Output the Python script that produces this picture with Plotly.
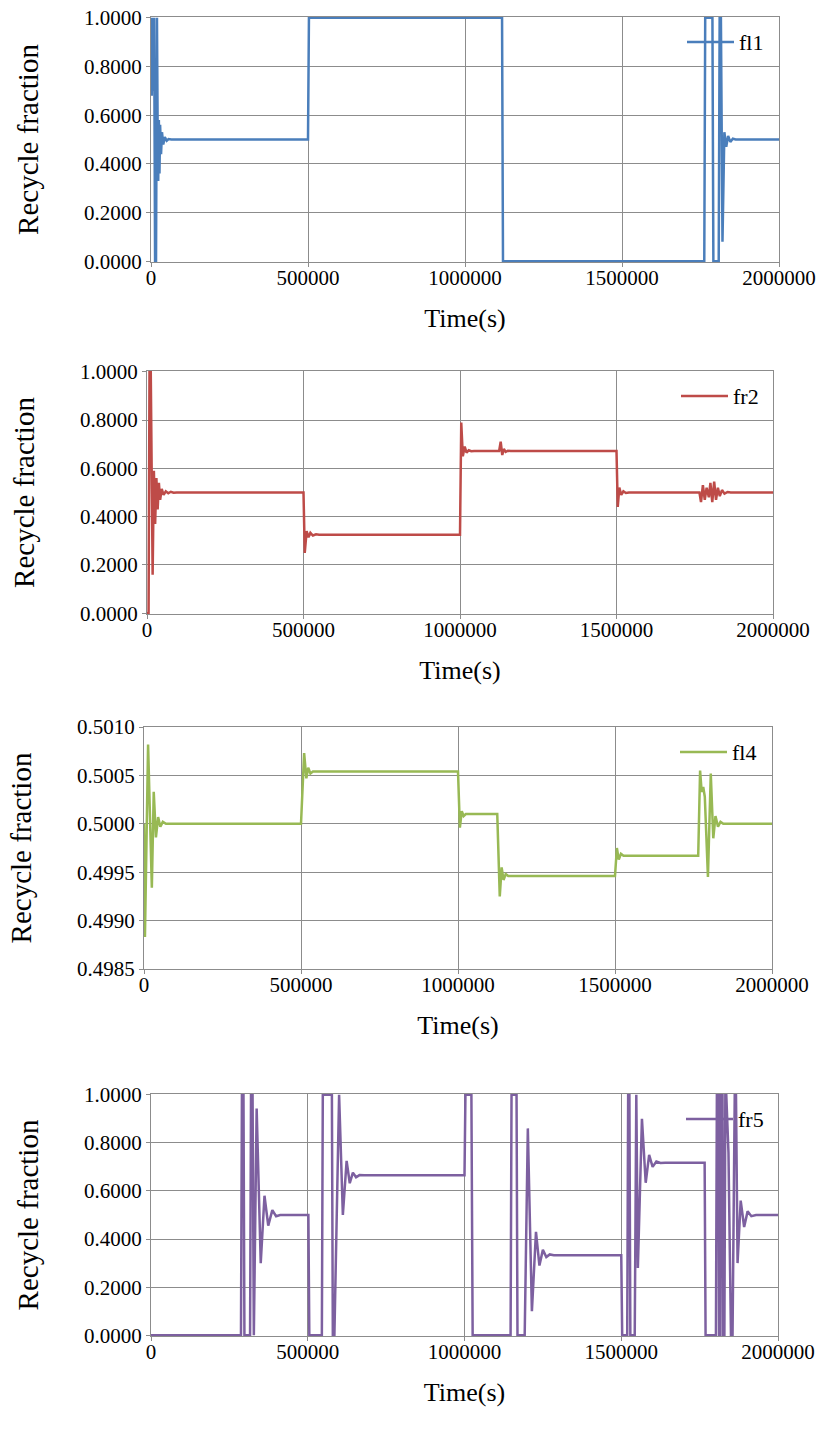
import plotly.graph_objects as go

# ---- fl1 ----
fl1_t = [0, 2500, 5000, 7500, 10000, 13000, 16000, 19000, 21000, 23000, 25000, 27000, 29000,
         32000, 35000, 39000, 44000, 50000, 56000, 65000, 500000, 503000, 1118000, 1121000,
         1762000, 1765000, 1788000, 1791000, 1808000, 1811000, 1815000, 1820000, 1826000,
         1832000, 1838000, 1845000, 1853000, 1862000, 2000000]
fl1_v = [1.0, 0.68, 1.0, 0.70, 1.0, 0.0, 0.0, 1.0, 0.58, 0.33, 0.58, 0.36, 0.56,
         0.44, 0.53, 0.48, 0.51, 0.495, 0.502, 0.5, 0.5, 1.0, 1.0, 0.0,
         0.0, 1.0, 1.0, 0.0, 0.0, 1.0, 1.0, 0.08, 0.53,
         0.47, 0.515, 0.49, 0.503, 0.5, 0.5]

# ---- fr2 ----
fr2_t = [0, 5000, 8000, 12000, 18000, 22000, 26000, 30000, 34000, 38000, 42000, 47000, 53000,
         60000, 68000, 76000, 85000, 95000, 500000, 504000, 510000, 516000, 522000, 530000,
         540000, 550000, 1000000, 1004000, 1009000, 1015000, 1021000, 1028000, 1036000, 1045000,
         1125000, 1130000, 1135000, 1140000, 1146000, 1153000, 1162000, 1500000, 1504000,
         1509000, 1515000, 1522000, 1530000, 1540000, 1765000, 1770000, 1776000, 1782000,
         1788000, 1795000, 1800000, 1806000, 1812000, 1818000, 1824000, 1830000, 1837000,
         1845000, 1855000, 1865000, 2000000]
fr2_v = [0.0, 0.0, 1.0, 1.0, 0.16, 0.59, 0.37, 0.56, 0.43, 0.54, 0.47, 0.515, 0.49,
         0.505, 0.497, 0.503, 0.499, 0.5, 0.5, 0.25, 0.34, 0.315, 0.333, 0.322,
         0.327, 0.325, 0.325, 0.79, 0.65, 0.69, 0.665, 0.675, 0.671, 0.672,
         0.672, 0.71, 0.655, 0.68, 0.668, 0.673, 0.672, 0.672, 0.44,
         0.52, 0.49, 0.505, 0.498, 0.5, 0.5, 0.46, 0.53, 0.47,
         0.52, 0.48, 0.54, 0.46, 0.545, 0.47, 0.52, 0.485, 0.51,
         0.495, 0.502, 0.5, 0.5]

# ---- fl4 ----
fl4_t = [0, 3000, 13000, 25000, 31000, 38000, 45000, 52000, 60000, 70000, 500000, 510000,
         517000, 523000, 530000, 538000, 1000000, 1006000, 1012000, 1018000, 1025000, 1125000,
         1133000, 1139000, 1145000, 1152000, 1160000, 1500000, 1506000, 1512000, 1519000,
         1527000, 1765000, 1771000, 1776000, 1781000, 1786000, 1796000, 1805000, 1813000,
         1820000, 1828000, 1836000, 1845000, 2000000]
fl4_v = [0.5000, 0.49883, 0.50082, 0.49934, 0.50033, 0.49986, 0.50007, 0.49997, 0.50002, 0.5,
         0.5, 0.50073, 0.50047, 0.50058, 0.50052, 0.50054, 0.50054, 0.49996, 0.50013, 0.50008,
         0.5001, 0.5001, 0.49925, 0.49955, 0.49942, 0.49948, 0.49946, 0.49946, 0.49975,
         0.49963, 0.49969, 0.49967, 0.49967, 0.50055, 0.50033, 0.50038, 0.50028, 0.49945,
         0.50052, 0.49985, 0.50008, 0.49997, 0.50002, 0.5, 0.5]

# ---- fr5 ----
fr5_t = [0, 287000, 290000, 295000, 298000, 316000, 319000, 324000, 328000, 337000, 350000,
         362000, 374000, 387000, 399000, 412000, 502000, 505000, 545000, 548000, 577000,
         580000, 585000, 600000, 612000, 624000, 634000, 644000, 654000, 665000, 680000,
         1000000, 1003000, 1022000, 1026000, 1147000, 1150000, 1166000, 1169000, 1192000,
         1202000, 1215000, 1228000, 1239000, 1250000, 1261000, 1272000, 1285000, 1500000,
         1503000, 1519000, 1522000, 1526000, 1529000, 1543000, 1546000, 1548000, 1553000,
         1566000, 1578000, 1589000, 1600000, 1612000, 1625000, 1640000, 1766000, 1769000,
         1802000, 1805000, 1810000, 1812000, 1816000, 1818000, 1823000, 1825000, 1829000,
         1832000, 1835000, 1842000, 1850000, 1855000, 1862000, 1866000, 1871000, 1881000,
         1892000, 1903000, 1915000, 1930000, 2000000]
fr5_v = [0.0, 0.0, 1.0, 1.0, 0.0, 0.0, 1.0, 1.0, 0.0, 0.943, 0.30,
         0.58, 0.456, 0.52, 0.495, 0.5, 0.5, 0.0, 0.0, 1.0, 1.0,
         0.0, 0.0, 1.0, 0.50, 0.725, 0.632, 0.676, 0.657, 0.666, 0.665,
         0.665, 1.0, 1.0, 0.0, 0.0, 1.0, 1.0, 0.0, 0.0,
         0.86, 0.10, 0.43, 0.29, 0.355, 0.325, 0.336, 0.333, 0.333,
         0.0, 0.0, 1.0, 1.0, 0.0, 0.0, 1.0, 1.0, 0.28,
         0.90, 0.634, 0.75, 0.70, 0.722, 0.716, 0.717, 0.717, 0.0,
         0.0, 1.0, 1.0, 0.0, 0.0, 1.0, 1.0, 0.0, 0.0,
         1.0, 1.0, 0.76, 0.0, 0.0, 1.0, 1.0, 0.30, 0.56,
         0.45, 0.515, 0.495, 0.5, 0.5]

x_ticks = [0, 500000, 1000000, 1500000, 2000000]

W, H = 824, 1438
FONT = "Liberation Serif"
GRID = "#8c8c8c"

# name, times, values, colour, y-range, y-step, plot box (left, right, top, bottom) in px
panels = [
    ("fl1", fl1_t, fl1_v, "#4A7EBB", [-0.003, 1.003], 0.2, (151, 779, 17, 262)),
    ("fr2", fr2_t, fr2_v, "#BE4B48", [-0.003, 1.003], 0.2, (147, 773, 371, 614)),
    ("fl4", fl4_t, fl4_v, "#98B954", [0.4985, 0.5010], 0.0005, (144, 772, 727, 969)),
    ("fr5", fr5_t, fr5_v, "#7D60A0", [-0.003, 1.003], 0.2, (151, 778, 1094, 1336)),
]

fig = go.Figure()
annotations = []
shapes = []

for i, (name, t, v, color, yr, ystep, box) in enumerate(panels, start=1):
    left, right, top, bottom = box
    xa = "x" if i == 1 else f"x{i}"
    ya = "y" if i == 1 else f"y{i}"
    fig.add_trace(go.Scatter(
        x=t, y=v, mode="lines", name=name,
        line=dict(color=color, width=2.5),
        xaxis=xa, yaxis=ya, showlegend=False,
    ))
    axis_common = dict(
        showgrid=True, gridcolor=GRID, gridwidth=1,
        showline=True, linecolor=GRID, linewidth=1, mirror=True,
        ticks="outside", ticklen=4, tickcolor=GRID,
        tickfont=dict(family=FONT, size=21, color="black"),
        zeroline=False, layer="below traces", automargin=False,
    )
    fig.update_layout(**{
        f"xaxis{'' if i == 1 else i}": dict(
            domain=[left / W, right / W], anchor=ya,
            range=[0, 2000000], tickvals=x_ticks, tickformat="d",
            ticklabelstandoff=-7,
            title=dict(text="Time(s)", font=dict(family=FONT, size=26, color="black"), standoff=19),
            **axis_common),
        f"yaxis{'' if i == 1 else i}": dict(
            domain=[1 - bottom / H, 1 - top / H], anchor=xa,
            range=yr, dtick=ystep, tick0=0, tickformat=".4f",
            title=dict(text="Recycle fraction", font=dict(family=FONT, size=29, color="black"), standoff=36),
            **axis_common),
    })
    # series key in the upper right corner of each panel
    ky = 1 - (top + 25) / H
    shapes.append(dict(type="line", xref="paper", yref="paper",
                       x0=(right - 92) / W, x1=(right - 45) / W, y0=ky, y1=ky,
                       line=dict(color=color, width=2.5)))
    annotations.append(dict(text=name, xref="paper", yref="paper",
                            x=(right - 42) / W, y=ky, xanchor="left", yanchor="middle",
                            showarrow=False, font=dict(family=FONT, size=22, color="black")))

fig.update_layout(
    width=W, height=H,
    margin=dict(l=0, r=0, t=0, b=0),
    paper_bgcolor="white", plot_bgcolor="white",
    shapes=shapes, annotations=annotations,
    showlegend=False,
)

fig.write_html("out.html")
